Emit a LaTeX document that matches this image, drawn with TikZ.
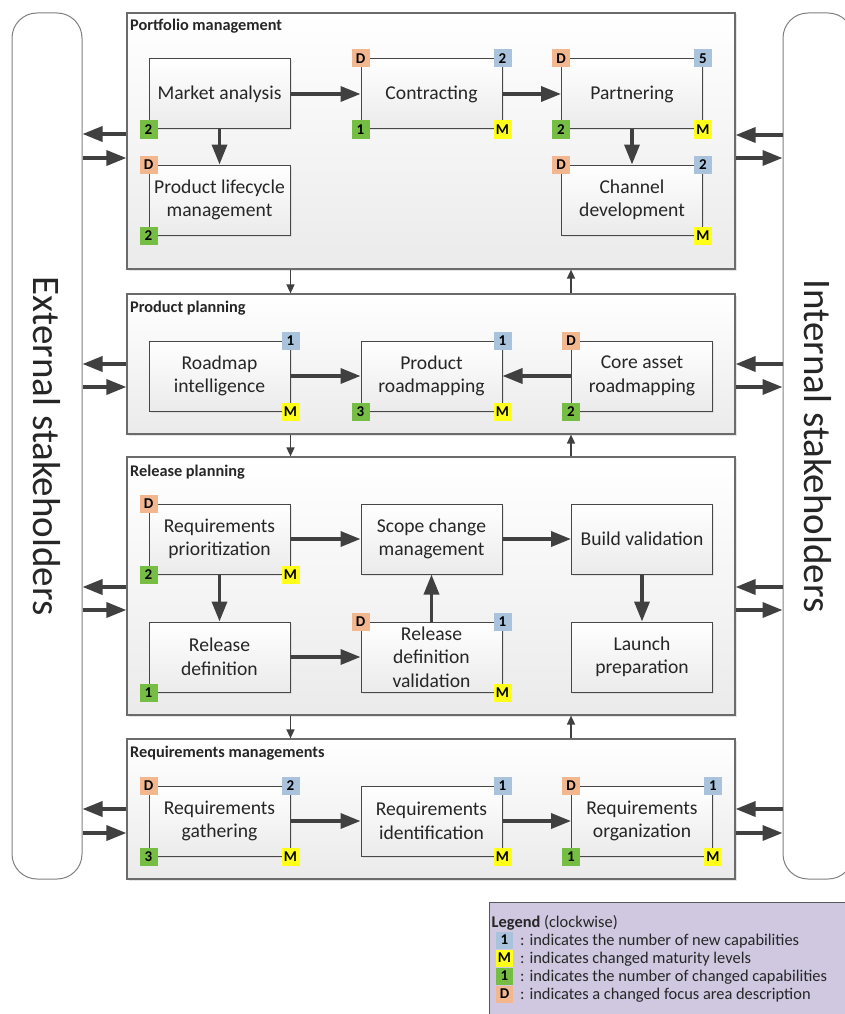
\documentclass[tikz,border=0pt]{standalone}
\usepackage{fontspec}
\setmainfont{Carlito}
\usetikzlibrary{arrows.meta,shadows}
\definecolor{cBlue}{HTML}{A9C3DC}
\definecolor{cOrange}{HTML}{F3B78F}
\definecolor{cGreen}{HTML}{76BD43}
\definecolor{cYellow}{HTML}{FFFF1A}
\definecolor{arr}{HTML}{404040}
\definecolor{txt}{HTML}{262626}
\definecolor{legfill}{HTML}{CFC8E0}
\begin{document}
\begin{tikzpicture}[x=1pt,y=-1pt,
  bar/.style={rectangle, rounded corners=25pt, draw=black!50, line width=1pt, fill=white,
    minimum width=70pt, minimum height=866pt, inner sep=0pt},
  sttext/.style={rotate=-90, font=\fontsize{39}{39}\selectfont, text=txt, inner sep=0pt},
  outbox/.style={rectangle, draw=black!58, line width=1.2pt, top color=white, bottom color=black!8,
    minimum width=608pt, inner sep=0pt,
    drop shadow={shadow xshift=1.5pt, shadow yshift=-1.5pt, opacity=0.25, fill=black!40}},
  ttl/.style={anchor=base west, inner sep=0pt, font=\bfseries\fontsize{16.3}{18}\selectfont, text=txt},
  inbox/.style={rectangle, draw=black!72, line width=1pt, top color=white, bottom color=black!8,
    minimum width=141pt, minimum height=70pt, inner sep=0pt, align=center,
    font=\fontsize{19.6}{23.5}\selectfont, text=txt,
    drop shadow={shadow xshift=1.5pt, shadow yshift=-1.5pt, opacity=0.2, fill=black!40}},
  badge/.style={rectangle, minimum width=18pt, minimum height=18pt, inner sep=0pt,
    font=\bfseries\fontsize{15}{15}\selectfont, text=black},
  bB/.style={badge, fill=cBlue},
  bY/.style={badge, fill=cYellow},
  bG/.style={badge, fill=cGreen},
  bO/.style={badge, fill=cOrange},
  big/.style={draw=arr, line width=3.5pt, -{Triangle[length=20pt,width=15pt]}},
  thinarr/.style={draw=arr, line width=1.5pt, -{Triangle[length=9pt,width=8pt]}},
  legendbox/.style={rectangle, draw=black!65, line width=1pt, fill=legfill,
    minimum width=361pt, minimum height=118pt, inner sep=0pt},
  legtxt/.style={anchor=base west, inner sep=0pt, font=\fontsize{16.4}{18}\selectfont, text=txt},
  lbadge/.style={minimum width=17pt, minimum height=17pt}
]
\useasboundingbox (0,0) rectangle (845,1014);
\fill[white] (0,0) rectangle (845,1014);

% stakeholder bars
\node[bar] (ext) at (47,446) {};
\node[bar] (int) at (818,446) {};
\node[sttext] (extl) at (ext.center) {External stakeholders};
\node[sttext] (intl) at (int.center) {Internal stakeholders};

% outer boxes
\node[outbox, minimum height=256pt] (pm) at (431,141) {};
\node[outbox, minimum height=140pt] (pp) at (431,364) {};
\node[outbox, minimum height=258pt] (rp) at (431,586) {};
\node[outbox, minimum height=140pt] (rm) at (431,809) {};
\node[ttl] (pmt) at (130,31) {Portfolio management};
\node[ttl] (ppt) at (130,312) {Product planning};
\node[ttl] (rpt) at (130,476) {Release planning};
\node[ttl] (rmt) at (130,757) {Requirements managements};

% inner boxes
\node[inbox] (ma)  at (219.5,94)  {Market analysis};
\node[inbox] (plm) at (219.5,200) {Product lifecycle\\management};
\node[inbox] (con) at (431.5,94)  {Contracting};
\node[inbox] (par) at (632,94)    {Partnering};
\node[inbox] (chd) at (632,200)   {Channel\\development};

\node[inbox] (ri)  at (219.5,376) {Roadmap\\intelligence};
\node[inbox] (pr)  at (431.5,376) {Product\\roadmapping};
\node[inbox] (ca)  at (642,376)   {Core asset\\roadmapping};

\node[inbox] (rpz) at (219.5,539) {Requirements\\prioritization};
\node[inbox] (scm) at (431.5,539) {Scope change\\management};
\node[inbox] (bv)  at (642,539)   {Build validation};
\node[inbox] (rd)  at (219.5,657) {Release\\definition};
\node[inbox] (rdv) at (431.5,657) {Release\\definition\\validation};
\node[inbox] (lp)  at (642,657)   {Launch\\preparation};

\node[inbox] (rg)  at (219.5,821) {Requirements\\gathering};
\node[inbox] (rid) at (431.5,821) {Requirements\\identification};
\node[inbox] (ro)  at (642,821)   {Requirements\\organization};

% arrows inside layers
\draw[big] (ma) -- (con);
\draw[big] (ma) -- (plm);
\draw[big] (con) -- (par);
\draw[big] (par) -- (chd);
\draw[big] (ri) -- (pr);
\draw[big] (ca) -- (pr);
\draw[big] (rpz) -- (scm);
\draw[big] (rpz) -- (rd);
\draw[big] (rd) -- (rdv);
\draw[big] (rdv) -- (scm);
\draw[big] (scm) -- (bv);
\draw[big] (bv) -- (lp);
\draw[big] (rg) -- (rid);
\draw[big] (rid) -- (ro);

% arrows between layers
\draw[thinarr] (pm.south -| ma.east) -- (pp.north -| ma.east);
\draw[thinarr] (pp.north -| ca.west) -- (pm.south -| ca.west);
\draw[thinarr] (pp.south -| ri.east) -- (rp.north -| ri.east);
\draw[thinarr] (rp.north -| bv.west) -- (pp.south -| bv.west);
\draw[thinarr] (rp.south -| rd.east) -- (rm.north -| rd.east);
\draw[thinarr] (rm.north -| lp.west) -- (rp.south -| lp.west);

% stakeholder arrows
\draw[big] (pm.west |- 0,134) -- (ext.east |- 0,134);
\draw[big] (ext.east |- 0,158) -- (pm.west |- 0,158);
\draw[big] (int.west |- 0,135) -- (pm.east |- 0,135);
\draw[big] (pm.east |- 0,158) -- (int.west |- 0,158);

\draw[big] (pp.west |- 0,364) -- (ext.east |- 0,364);
\draw[big] (ext.east |- 0,387) -- (pp.west |- 0,387);
\draw[big] (int.west |- 0,364) -- (pp.east |- 0,364);
\draw[big] (pp.east |- 0,387) -- (int.west |- 0,387);

\draw[big] (rp.west |- 0,587) -- (ext.east |- 0,587);
\draw[big] (ext.east |- 0,610) -- (rp.west |- 0,610);
\draw[big] (int.west |- 0,587) -- (rp.east |- 0,587);
\draw[big] (rp.east |- 0,610) -- (int.west |- 0,610);

\draw[big] (rm.west |- 0,809) -- (ext.east |- 0,809);
\draw[big] (ext.east |- 0,833) -- (rm.west |- 0,833);
\draw[big] (int.west |- 0,809) -- (rm.east |- 0,809);
\draw[big] (rm.east |- 0,833) -- (int.west |- 0,833);

% badges
\node[bG] (ma-bl) at (ma.south west) {2};
\node[bO] (plm-tl) at (plm.north west) {D};
\node[bG] (plm-bl) at (plm.south west) {2};
\node[bO] (con-tl) at (con.north west) {D};
\node[bB] (con-tr) at (con.north east) {2};
\node[bG] (con-bl) at (con.south west) {1};
\node[bY] (con-br) at (con.south east) {M};
\node[bO] (par-tl) at (par.north west) {D};
\node[bB] (par-tr) at (par.north east) {5};
\node[bG] (par-bl) at (par.south west) {2};
\node[bY] (par-br) at (par.south east) {M};
\node[bO] (chd-tl) at (chd.north west) {D};
\node[bB] (chd-tr) at (chd.north east) {2};
\node[bY] (chd-br) at (chd.south east) {M};

\node[bB] (ri-tr) at (ri.north east) {1};
\node[bY] (ri-br) at (ri.south east) {M};
\node[bB] (pr-tr) at (pr.north east) {1};
\node[bG] (pr-bl) at (pr.south west) {3};
\node[bY] (pr-br) at (pr.south east) {M};
\node[bO] (ca-tl) at (ca.north west) {D};
\node[bG] (ca-bl) at (ca.south west) {2};

\node[bO] (rpz-tl) at (rpz.north west) {D};
\node[bG] (rpz-bl) at (rpz.south west) {2};
\node[bY] (rpz-br) at (rpz.south east) {M};
\node[bG] (rd-bl) at (rd.south west) {1};
\node[bO] (rdv-tl) at (rdv.north west) {D};
\node[bB] (rdv-tr) at (rdv.north east) {1};
\node[bY] (rdv-br) at (rdv.south east) {M};

\node[bO] (rg-tl) at (rg.north west) {D};
\node[bB] (rg-tr) at (rg.north east) {2};
\node[bG] (rg-bl) at (rg.south west) {3};
\node[bY] (rg-br) at (rg.south east) {M};
\node[bB] (rid-tr) at (rid.north east) {1};
\node[bY] (rid-br) at (rid.south east) {M};
\node[bO] (ro-tl) at (ro.north west) {D};
\node[bB] (ro-tr) at (ro.north east) {1};
\node[bG] (ro-bl) at (ro.south west) {1};
\node[bY] (ro-br) at (ro.south east) {M};

% legend
\node[legendbox] (leg) at (669.5,961) {};
\node[legtxt] (legt) at (491.5,927) {\textbf{Legend} (clockwise)};
\node[bB, lbadge] (lb1) at (504.5,940) {1};
\node[bY, lbadge] (lb2) at (504.5,958) {M};
\node[bG, lbadge] (lb3) at (504.5,976) {1};
\node[bO, lbadge] (lb4) at (504.5,994) {D};
\node[legtxt] (lt1) at (520,945) {: indicates the number of new capabilities};
\node[legtxt] (lt2) at (520,963) {: indicates changed maturity levels};
\node[legtxt] (lt3) at (520,981) {: indicates the number of changed capabilities};
\node[legtxt] (lt4) at (520,999) {: indicates a changed focus area description};
\end{tikzpicture}
\end{document}
